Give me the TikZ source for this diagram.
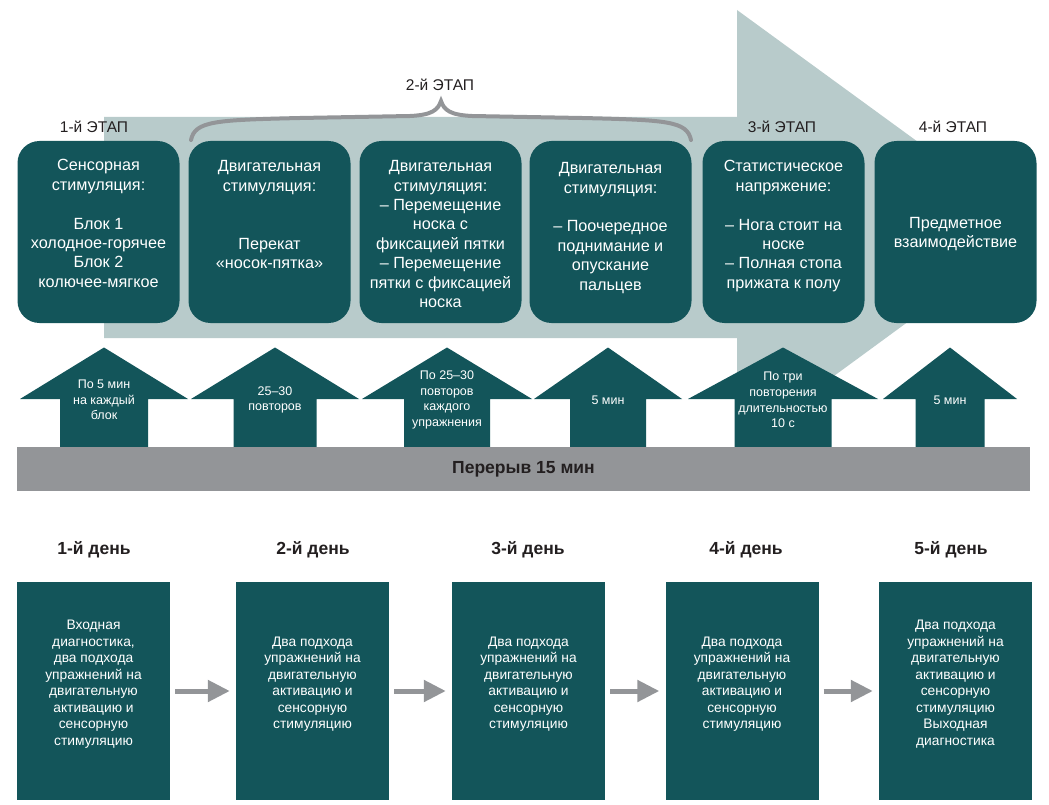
\documentclass[tikz,border=0pt]{standalone}
\usepackage{fontspec}
\setmainfont{Liberation Sans}
\usetikzlibrary{arrows.meta,positioning}

\definecolor{stageteal}{HTML}{13555A}
\definecolor{bandgrey}{HTML}{B8CBCB}
\definecolor{midgrey}{HTML}{939598}
\definecolor{inkdark}{HTML}{231F20}

\begin{document}
\begin{tikzpicture}[x=1pt, y=-1pt]

\tikzset{stagebox/.style={fill=stageteal, rounded corners=22pt, minimum width=162pt, minimum height=182pt, inner sep=0pt}}
\tikzset{stagetext/.style={text=white, align=center, inner sep=0pt, font=\fontsize{16.2}{19.4}\selectfont}}
\tikzset{stagelabel/.style={text=inkdark, font=\fontsize{15.5}{18}\selectfont}}
\tikzset{steptext/.style={text=white, align=center, inner sep=0pt, font=\fontsize{12.5}{15.6}\selectfont}}
\tikzset{pausebar/.style={fill=midgrey, text=inkdark, minimum width=1013pt, minimum height=44pt, font=\bfseries\fontsize{17.5}{20}\selectfont}}
\tikzset{daybox/.style={fill=stageteal, minimum width=153pt, minimum height=218pt, inner sep=0pt}}
\tikzset{daytext/.style={text=white, align=center, inner sep=0pt, font=\fontsize{13.8}{16.5}\selectfont}}
\tikzset{daytitle/.style={text=inkdark, font=\bfseries\fontsize{17.5}{20}\selectfont}}
\tikzset{dayarrow/.style={draw=midgrey, line width=5pt, -{Triangle[length=22pt, width=21pt]}, shorten <=5pt, shorten >=6pt}}

\useasboundingbox (0,0) rectangle (1049,805);

% background arrow behind the stages
\fill[bandgrey] (104,117) -- (737,117) -- (737,10) -- (1036,228) -- (737,447) -- (737,338) -- (104,338) -- cycle;

% arrows standing on the break bar
\foreach \i/\cx/\hw/\sw/\txt in {
  1/104/84/44/{По 5 мин\\на каждый\\блок},
  2/275/84/41.5/{25–30\\повторов},
  3/447/85/43/{По 25–30\\повторов\\каждого\\упражнения},
  4/608/74/38/{5 мин},
  5/783/95/48.5/{По три\\повторения\\длительностью\\10 с},
  6/950/67/34.5/{5 мин}}
{
  \fill[stageteal] (\cx-\sw,447) -- (\cx-\sw,399) -- (\cx-\hw,399) -- (\cx,347.5)
    -- (\cx+\hw,399) -- (\cx+\sw,399) -- (\cx+\sw,447) -- cycle;
  \node[steptext] (steptext\i) at (\cx,400) {\txt};
}

% break bar
\node[pausebar] (pause) at (523.5,469) {Перерыв 15 мин};

% stage titles and brace
\node[stagelabel] (label1) at (94,127) {1-й ЭТАП};
\node[stagelabel] (label2) at (440,85) {2-й ЭТАП};
\node[stagelabel] (label3) at (782,127) {3-й ЭТАП};
\node[stagelabel] (label4) at (953,127) {4-й ЭТАП};

\coordinate (braceL) at (191,140);
\coordinate (braceM) at (441,101);
\coordinate (braceR) at (691,140);
\draw[midgrey, line width=4pt, line cap=round]
  (braceL) .. controls (195,121) and (215,120) .. (300,118) -- (410,116)
  .. controls (432,115) and (438,110) .. (braceM)
  .. controls (444,110) and (450,115) .. (472,116) -- (582,118)
  .. controls (667,120) and (687,121) .. (braceR);

% stage boxes
\node[stagebox] (stage1) at (98.5,232) {};
\node[stagebox] (stage2) at (269.5,232) {};
\node[stagebox] (stage3) at (440.5,232) {};
\node[stagebox] (stage4) at (610.5,232) {};
\node[stagebox] (stage5) at (783.5,232) {};
\node[stagebox] (stage6) at (955.5,232) {};

\node[stagetext, anchor=north] (text1) at ([yshift=-18.5pt]stage1.north)
  {Сенсорная\\стимуляция:\\[19.4pt]Блок 1\\холодное-горячее\\Блок 2\\колючее-мягкое};
\node[stagetext, anchor=north] (text2) at ([yshift=-19.5pt]stage2.north)
  {Двигательная\\стимуляция:\\[38.8pt]Перекат\\«носок-пятка»};
\node[stagetext, anchor=north] (text3) at ([yshift=-19.5pt]stage3.north)
  {Двигательная\\стимуляция:\\– Перемещение\\носка с\\фиксацией пятки\\– Перемещение\\пятки с фиксацией\\носка};
\node[stagetext, anchor=north] (text4) at ([yshift=-21.5pt]stage4.north)
  {Двигательная\\стимуляция:\\[19.4pt]– Поочередное\\поднимание и\\опускание\\пальцев};
\node[stagetext, anchor=north] (text5) at ([yshift=-19.5pt]stage5.north)
  {Статистическое\\напряжение:\\[19.4pt]– Нога стоит на\\носке\\– Полная стопа\\прижата к полу};
\node[stagetext] (text6) at ([yshift=-2pt]stage6.center) {Предметное\\взаимодействие};

% days
\node[daytitle] (title1) at (94,550) {1-й день};
\node[daytitle] (title2) at (313,550) {2-й день};
\node[daytitle] (title3) at (528,550) {3-й день};
\node[daytitle] (title4) at (746,550) {4-й день};
\node[daytitle] (title5) at (951,550) {5-й день};

\node[daybox] (day1) at (93.5,691) {};
\node[daybox] (day2) at (312.5,691) {};
\node[daybox] (day3) at (528.5,691) {};
\node[daybox] (day4) at (742,691) {};
\node[daybox] (day5) at (955.5,691) {};

\node[daytext] (daytext1) at ([yshift=7pt]day1.center)
  {Входная\\диагностика,\\два подхода\\упражнений на\\двигательную\\активацию и\\сенсорную\\стимуляцию};
\node[daytext] (daytext2) at ([yshift=7pt]day2.center)
  {Два подхода\\упражнений на\\двигательную\\активацию и\\сенсорную\\стимуляцию};
\node[daytext] (daytext3) at ([yshift=7pt]day3.center)
  {Два подхода\\упражнений на\\двигательную\\активацию и\\сенсорную\\стимуляцию};
\node[daytext] (daytext4) at ([yshift=7pt]day4.center)
  {Два подхода\\упражнений на\\двигательную\\активацию и\\сенсорную\\стимуляцию};
\node[daytext] (daytext5) at ([yshift=7pt]day5.center)
  {Два подхода\\упражнений на\\двигательную\\активацию и\\сенсорную\\стимуляцию\\Выходная\\диагностика};

% day to day
\draw[dayarrow] (day1) -- (day2);
\draw[dayarrow] (day2) -- (day3);
\draw[dayarrow] (day3) -- (day4);
\draw[dayarrow] (day4) -- (day5);

\end{tikzpicture}
\end{document}
